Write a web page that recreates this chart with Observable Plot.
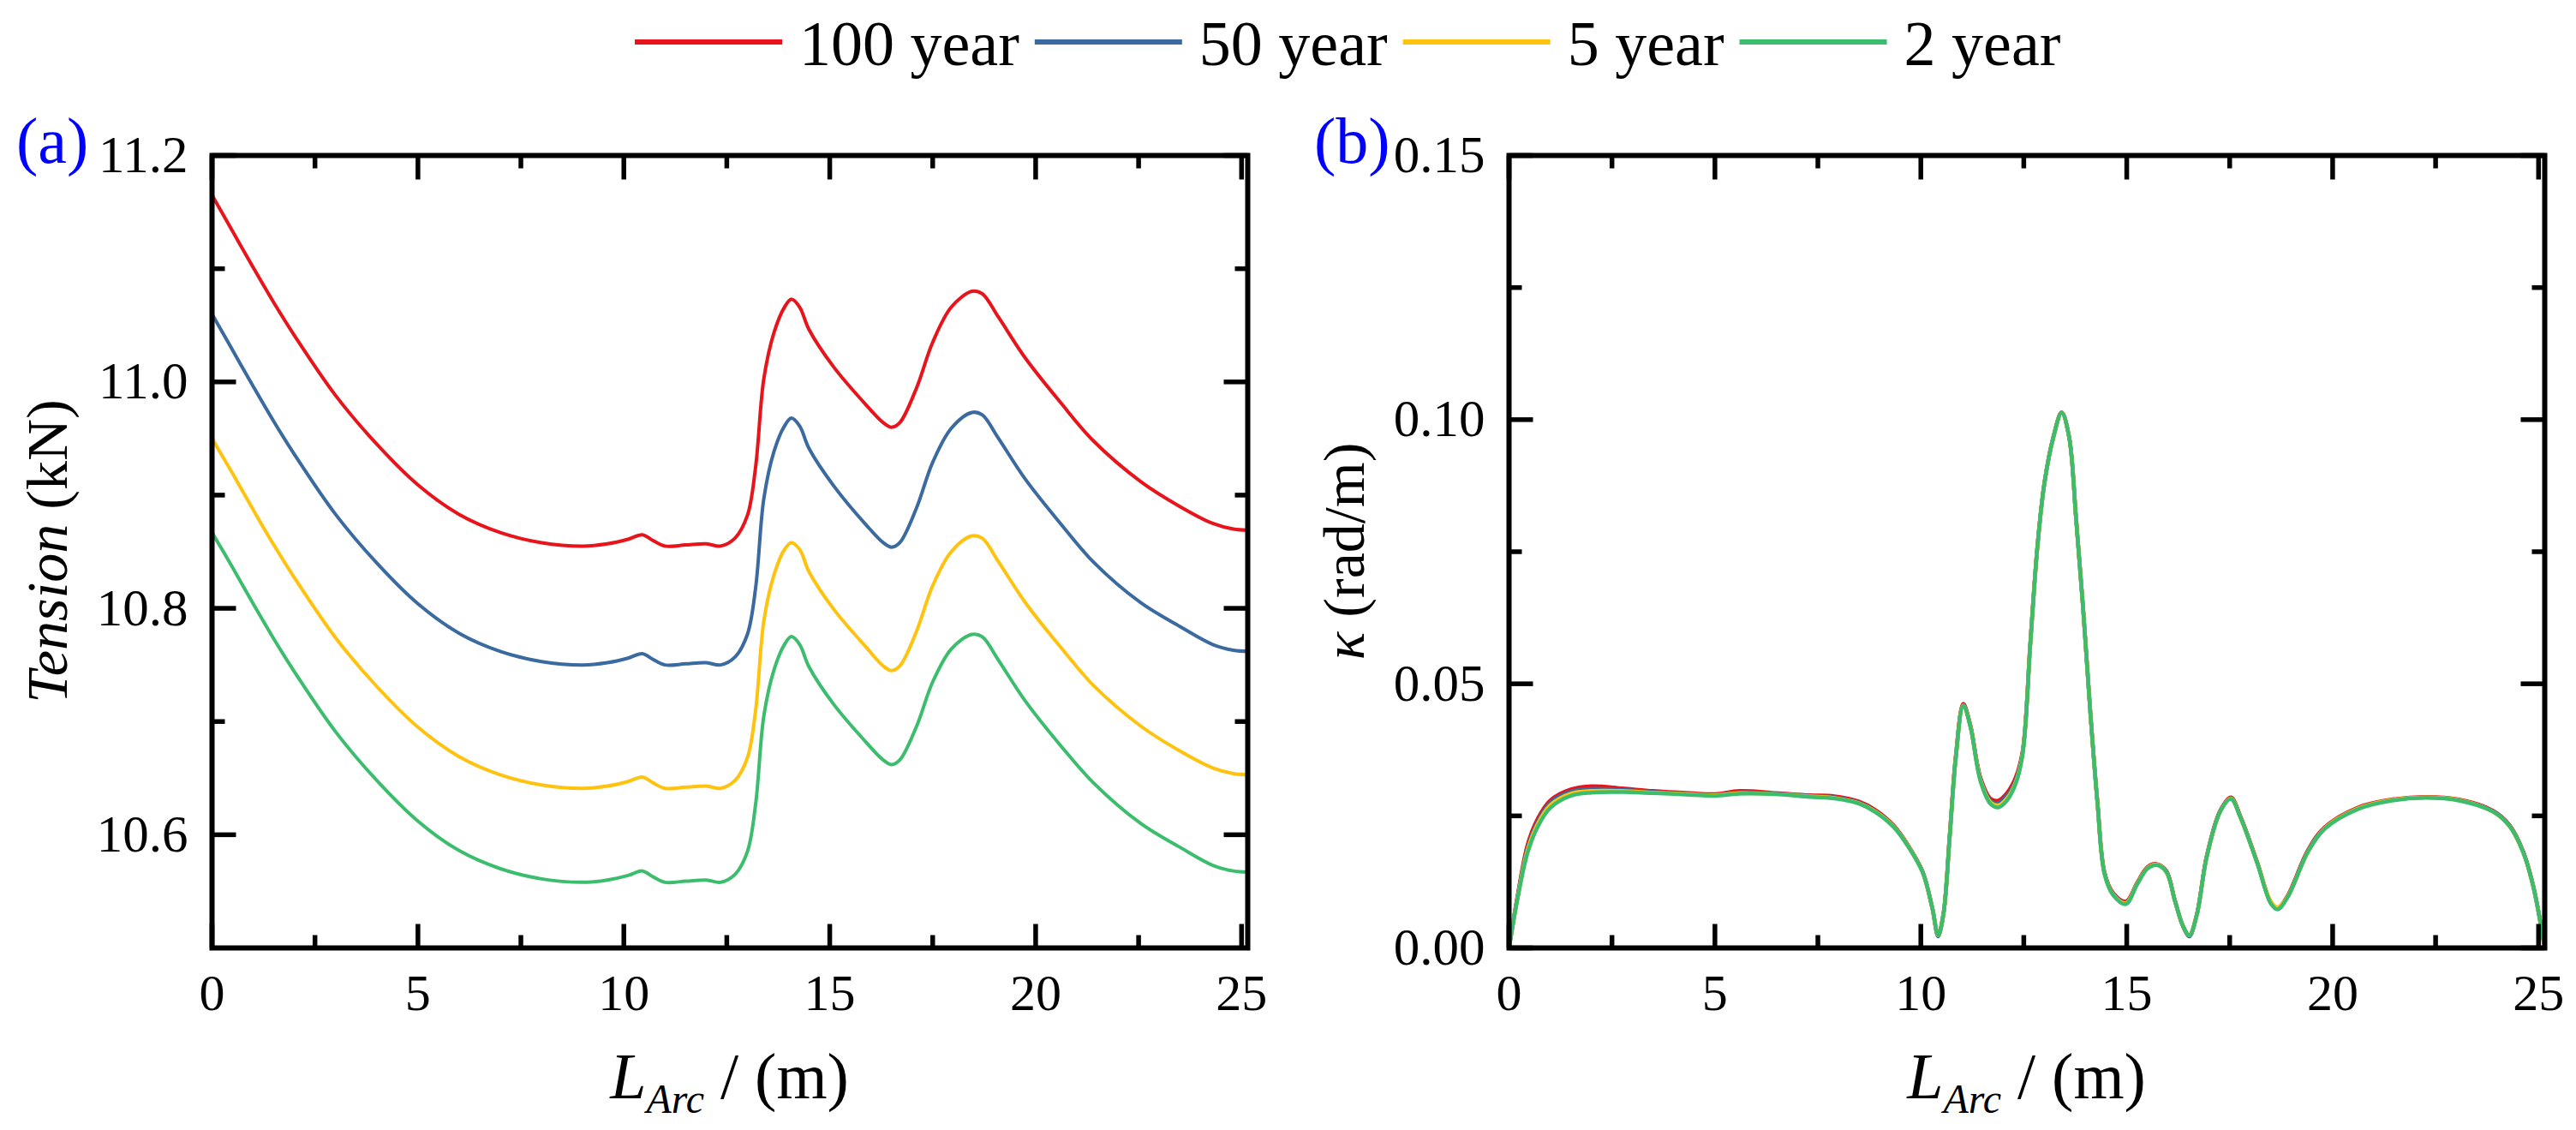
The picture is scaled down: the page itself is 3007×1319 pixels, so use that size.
<!DOCTYPE html>
<html><head><meta charset="utf-8">
<script src="https://cdn.jsdelivr.net/npm/d3@7"></script>
<script src="https://cdn.jsdelivr.net/npm/@observablehq/plot@0.6"></script>
<style>
html,body{margin:0;padding:0;background:#fff;}
#root{position:relative;width:3007px;height:1319px;overflow:hidden;font-family:"Liberation Serif","Times New Roman",serif;background:#fff;}
#legend{position:absolute;left:0;top:0;}
#panels{position:absolute;left:0;top:120px;display:flex;}
</style></head>
<body><div id="root"><svg id="legend" width="3007" height="120"></svg><div id="panels"></div></div>
<script>
// ---------- data ----------
const seriesNames = ["100 year", "50 year", "5 year", "2 year"];
const seriesColors = ["#e8141b", "#3a6a9f", "#ffc30f", "#3cbd6d"];

// panel (a) : tension
const tensionX = [0, 0.5, 1, 1.5, 2, 3, 4, 5, 6, 7, 8, 9, 9.6, 10.1, 10.45, 10.7, 11.0, 11.5, 12.0, 12.35, 12.7, 13.0, 13.2, 13.4, 13.65, 13.9, 14.07, 14.27, 14.5, 15.1, 15.9, 16.3, 16.5, 16.7, 17.1, 17.5, 17.95, 18.45, 18.7, 19.1, 19.75, 20.6, 21.4, 22.55, 23.5, 24.3, 24.8, 25.15];
const tension100 = [11.165, 11.133, 11.101, 11.070, 11.041, 10.988, 10.945, 10.909, 10.883, 10.867, 10.858, 10.855, 10.857, 10.861, 10.865, 10.860, 10.855, 10.856, 10.857, 10.855, 10.862, 10.882, 10.925, 11.003, 11.044, 11.066, 11.073, 11.066, 11.046, 11.013, 10.979, 10.964, 10.960, 10.964, 10.994, 11.035, 11.066, 11.080, 11.078, 11.057, 11.021, 10.982, 10.948, 10.912, 10.890, 10.875, 10.870, 10.869];
const tension50 = [11.060, 11.028, 10.996, 10.965, 10.936, 10.883, 10.840, 10.804, 10.778, 10.762, 10.753, 10.750, 10.752, 10.756, 10.760, 10.755, 10.750, 10.751, 10.752, 10.750, 10.757, 10.777, 10.818, 10.897, 10.939, 10.961, 10.968, 10.961, 10.941, 10.908, 10.873, 10.858, 10.854, 10.858, 10.888, 10.929, 10.959, 10.973, 10.971, 10.950, 10.914, 10.875, 10.841, 10.805, 10.784, 10.768, 10.763, 10.762];
const tension5 = [10.950, 10.919, 10.887, 10.856, 10.827, 10.774, 10.731, 10.695, 10.669, 10.653, 10.644, 10.641, 10.643, 10.647, 10.651, 10.646, 10.641, 10.642, 10.643, 10.641, 10.648, 10.668, 10.710, 10.789, 10.830, 10.852, 10.858, 10.852, 10.832, 10.799, 10.765, 10.749, 10.745, 10.749, 10.779, 10.820, 10.850, 10.864, 10.862, 10.841, 10.805, 10.766, 10.732, 10.696, 10.674, 10.659, 10.654, 10.653];
const tension2 = [10.867, 10.836, 10.804, 10.773, 10.744, 10.691, 10.648, 10.612, 10.586, 10.570, 10.561, 10.558, 10.560, 10.564, 10.568, 10.563, 10.558, 10.559, 10.560, 10.558, 10.565, 10.585, 10.627, 10.705, 10.746, 10.768, 10.775, 10.768, 10.748, 10.715, 10.681, 10.666, 10.662, 10.666, 10.695, 10.735, 10.764, 10.777, 10.775, 10.754, 10.718, 10.679, 10.646, 10.610, 10.589, 10.573, 10.568, 10.567];

// panel (b) : curvature
const curvX = [0, 0.2, 0.45, 0.7, 1.0, 1.5, 2.0, 2.75, 3.5, 4.4, 5.0, 5.6, 6.5, 7.3, 7.9, 8.5, 8.9, 9.35, 9.75, 10.05, 10.28, 10.42, 10.55, 10.7, 10.85, 11.03, 11.2, 11.45, 11.7, 11.88, 12.1, 12.3, 12.47, 12.66, 12.83, 13.0, 13.22, 13.42, 13.6, 13.77, 13.94, 14.12, 14.29, 14.46, 14.67, 14.98, 15.25, 15.5, 15.72, 15.96, 16.17, 16.37, 16.52, 16.7, 16.94, 17.27, 17.53, 17.76, 18.17, 18.5, 18.66, 18.9, 19.4, 19.8, 20.62, 21.44, 22.25, 23.07, 23.89, 24.3, 24.62, 24.87, 25.13];
const curv100 = [0, 0.0095, 0.0195, 0.0245, 0.0279, 0.0300, 0.0306, 0.0302, 0.0297, 0.0293, 0.0291, 0.0297, 0.0293, 0.0289, 0.0287, 0.0277, 0.0261, 0.0231, 0.0187, 0.0143, 0.0075, 0.0024, 0.0065, 0.0213, 0.0365, 0.0462, 0.0423, 0.0322, 0.0282, 0.0279, 0.0294, 0.0322, 0.0372, 0.0580, 0.0760, 0.0880, 0.0968, 0.1014, 0.0968, 0.0813, 0.0644, 0.0442, 0.0275, 0.0143, 0.0104, 0.0088, 0.0123, 0.0153, 0.0159, 0.0146, 0.0090, 0.0041, 0.0024, 0.0063, 0.0173, 0.0260, 0.0285, 0.0249, 0.0162, 0.0086, 0.0075, 0.0098, 0.0185, 0.0228, 0.0266, 0.0281, 0.0286, 0.0281, 0.0260, 0.0232, 0.0184, 0.0118, 0.0010];
const curv50 = [0, 0.0093, 0.0190, 0.0240, 0.0275, 0.0296, 0.0301, 0.0299, 0.0295, 0.0291, 0.0289, 0.0294, 0.0292, 0.0288, 0.0285, 0.0275, 0.0259, 0.0230, 0.0186, 0.0143, 0.0075, 0.0022, 0.0065, 0.0211, 0.0362, 0.0460, 0.0421, 0.0319, 0.0278, 0.0274, 0.0289, 0.0317, 0.0369, 0.0578, 0.0759, 0.0879, 0.0967, 0.1013, 0.0967, 0.0812, 0.0643, 0.0441, 0.0274, 0.0142, 0.0102, 0.0086, 0.0121, 0.0151, 0.0158, 0.0145, 0.0089, 0.0040, 0.0022, 0.0062, 0.0172, 0.0259, 0.0283, 0.0248, 0.0161, 0.0085, 0.0074, 0.0096, 0.0183, 0.0226, 0.0264, 0.0280, 0.0285, 0.0280, 0.0259, 0.0231, 0.0183, 0.0117, 0.0010];
const curv5 = [0, 0.0091, 0.0185, 0.0235, 0.0270, 0.0292, 0.0297, 0.0297, 0.0294, 0.0291, 0.0289, 0.0293, 0.0291, 0.0287, 0.0284, 0.0274, 0.0258, 0.0229, 0.0186, 0.0142, 0.0075, 0.0024, 0.0065, 0.0209, 0.0361, 0.0459, 0.0421, 0.0317, 0.0275, 0.0270, 0.0284, 0.0313, 0.0367, 0.0577, 0.0758, 0.0879, 0.0967, 0.1013, 0.0967, 0.0812, 0.0643, 0.0441, 0.0273, 0.0141, 0.0101, 0.0085, 0.0121, 0.0151, 0.0158, 0.0144, 0.0089, 0.0041, 0.0024, 0.0062, 0.0171, 0.0258, 0.0283, 0.0247, 0.0161, 0.0088, 0.0077, 0.0096, 0.0182, 0.0226, 0.0264, 0.0280, 0.0285, 0.0280, 0.0258, 0.0230, 0.0182, 0.0117, 0.0010];
const curv2 = [0, 0.0090, 0.0180, 0.0230, 0.0265, 0.0288, 0.0294, 0.0295, 0.0293, 0.0290, 0.0288, 0.0292, 0.0291, 0.0286, 0.0283, 0.0273, 0.0257, 0.0228, 0.0185, 0.0142, 0.0075, 0.0024, 0.0065, 0.0208, 0.0360, 0.0458, 0.0420, 0.0315, 0.0272, 0.0266, 0.0280, 0.0310, 0.0365, 0.0576, 0.0758, 0.0879, 0.0967, 0.1013, 0.0967, 0.0812, 0.0643, 0.0441, 0.0273, 0.0140, 0.0100, 0.0083, 0.0120, 0.0150, 0.0157, 0.0144, 0.0089, 0.0041, 0.0024, 0.0062, 0.0171, 0.0258, 0.0282, 0.0247, 0.0160, 0.0084, 0.0073, 0.0095, 0.0182, 0.0225, 0.0263, 0.0279, 0.0284, 0.0279, 0.0258, 0.0230, 0.0182, 0.0117, 0.0010];

// ticks
const xMajorTicks = [0, 5, 10, 15, 20, 25];
const xMinorTicks = [2.5, 7.5, 12.5, 17.5, 22.5];
const tensionMajorTicks = [10.6, 10.8, 11.0, 11.2];
const tensionMinorTicks = [10.7, 10.9, 11.1];
const curvMajorTicks = [0, 0.05, 0.10, 0.15];
const curvMinorTicks = [0.025, 0.075, 0.125];

// ---------- helpers ----------
const FONT = '"Liberation Serif", "Times New Roman", serif';
const tickShape = {draw(context, l) { context.moveTo(0, 0); context.lineTo(0, -l); }};
function tickMarks(values, channel, frameAnchor, rotate, len) {
  return Plot.vector(values, {[channel]: d => d, frameAnchor, rotate, length: len, anchor: "start",
    shape: tickShape, stroke: "black", strokeWidth: 5.5, strokeLinecap: "butt"});
}
function allTicks(xMaj, xMin, yMaj, yMin) {
  return [
    tickMarks(xMaj, "x", "bottom", 0, 28), tickMarks(xMin, "x", "bottom", 0, 15),
    tickMarks(xMaj, "x", "top", 180, 28), tickMarks(xMin, "x", "top", 180, 15),
    tickMarks(yMaj, "y", "left", 90, 28), tickMarks(yMin, "y", "left", 90, 15),
    tickMarks(yMaj, "y", "right", 270, 28), tickMarks(yMin, "y", "right", 270, 15)
  ];
}
function rows(xs, ys) { return xs.map((x, i) => ({x, y: ys[i]})); }

function makePanel({width, marginLeft, marginRight, yDomain, yMaj, yMin, yFmt, xs, series, lineWidth, yLabelParts, panelTag, tagX}) {
  const H = 1199, marginTop = 61, marginBottom = 213;
  const chart = Plot.plot({
    width, height: H, marginLeft, marginRight, marginTop, marginBottom,
    style: {fontFamily: FONT, color: "black", background: "transparent", overflow: "visible"},
    x: {domain: [0, 25.15]},
    y: {domain: yDomain},
    marks: [
      ...series.map((s, i) => Plot.line(rows(xs, s), {x: "x", y: "y", stroke: seriesColors[i], strokeWidth: lineWidth, curve: "catmull-rom"})),
      Plot.frame({stroke: "black", strokeWidth: 6}),
      ...allTicks(xMajorTicks, xMinorTicks, yMaj, yMin),
      Plot.axisX({ticks: xMajorTicks, tickSize: 0, tickPadding: 30, fontSize: 60, tickFormat: d => String(d), label: null}),
      Plot.axisY({ticks: yMaj, tickSize: 0, tickPadding: 28, fontSize: 61, tickFormat: yFmt, label: null})
    ]
  });
  const svg = d3.select(chart);
  const cx = marginLeft + (width - marginLeft - marginRight) / 2;
  // x label
  const xl = svg.append("text").attr("x", cx).attr("y", 1162).attr("text-anchor", "middle")
    .attr("font-family", FONT).attr("font-size", 76).attr("fill", "black");
  xl.append("tspan").attr("font-style", "italic").text("L");
  xl.append("tspan").attr("font-style", "italic").attr("font-size", 48).attr("dy", 17).text("Arc");
  xl.append("tspan").attr("dy", -17).text(" / (m)");
  // y label
  const cy = marginTop + (H - marginTop - marginBottom) / 2;
  const yl = svg.append("text").attr("transform", `translate(${marginLeft - 169},${cy}) rotate(-90)`)
    .attr("text-anchor", "middle").attr("font-family", FONT).attr("font-size", 68).attr("fill", "black");
  yl.append("tspan").attr("font-style", "italic").text(yLabelParts[0]);
  yl.append("tspan").text(yLabelParts[1]);
  // panel tag
  svg.append("text").attr("x", tagX).attr("y", 70).attr("text-anchor", "start")
    .attr("font-family", FONT).attr("font-size", 76).attr("fill", "#0000ff").text(panelTag);
  return chart;
}

const panelA = makePanel({
  width: 1500, marginLeft: 247, marginRight: 44,
  yDomain: [10.5, 11.2], yMaj: tensionMajorTicks, yMin: tensionMinorTicks, yFmt: d3.format(".1f"),
  xs: tensionX, series: [tension100, tension50, tension5, tension2], lineWidth: 4,
  yLabelParts: ["Tension", " (kN)"], panelTag: "(a)", tagX: 19
});
const panelB = makePanel({
  width: 1507, marginLeft: 261, marginRight: 37,
  yDomain: [0, 0.15], yMaj: curvMajorTicks, yMin: curvMinorTicks, yFmt: d3.format(".2f"),
  xs: curvX, series: [curv100, curv50, curv5, curv2], lineWidth: 4.5,
  yLabelParts: ["κ", " (rad/m)"], panelTag: "(b)", tagX: 34
});
document.getElementById("panels").append(panelA, panelB);

// ---------- legend ----------
const leg = d3.select("#legend");
let lx = 741;
seriesNames.forEach((name, i) => {
  leg.append("line").attr("x1", lx).attr("x2", lx + 172).attr("y1", 49).attr("y2", 49)
    .attr("stroke", seriesColors[i]).attr("stroke-width", 6);
  lx += 172 + 20;
  const t = leg.append("text").attr("x", lx).attr("y", 76).attr("font-family", FONT)
    .attr("font-size", 74).attr("fill", "black").text(name);
  lx += t.node().getComputedTextLength() + 18;
});
</script>
</body></html>
